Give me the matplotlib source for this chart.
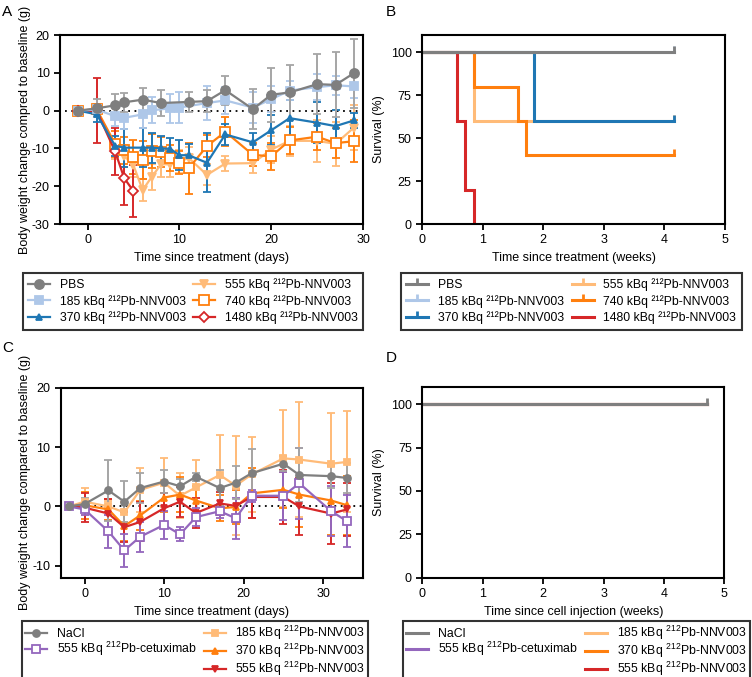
import matplotlib
matplotlib.use("Agg")
import matplotlib.pyplot as plt
from matplotlib.path import Path
from matplotlib.lines import Line2D

# ---------------- data: panel A (body weight, days) ----------------
pbs_days = [-1, 1, 3, 4, 6, 8, 11, 13, 15, 18, 20, 22, 25, 27, 29]
pbs_mean = [0, 0.6, 1.4, 2.2, 2.9, 2.0, 2.3, 2.5, 5.4, 0.4, 4.2, 4.8, 7.0, 6.8, 9.9]
pbs_sd = [0, 2.4, 3.1, 2.5, 3.0, 3.4, 2.7, 2.9, 3.8, 5.3, 7.1, 7.3, 8.0, 8.6, 9.1]

d185_days = [-1, 1, 3, 4, 6, 7, 9, 10, 13, 15, 18, 20, 22, 25, 27, 29]
d185_mean = [0, 0.3, -1.5, -1.9, -1.0, 0.1, 0.6, 0.8, 2.0, 2.7, 0.8, 3.0, 5.3, 6.2, 6.7, 6.4]
d185_sd = [0, 1.5, 2.5, 3.0, 3.5, 3.5, 3.8, 4.0, 4.5, 3.5, 4.0, 3.5, 2.5, 3.5, 2.5, 3.0]

d370_days = [-1, 1, 3, 4, 6, 7, 8, 9, 10, 11, 13, 15, 18, 20, 22, 25, 27, 29]
d370_mean = [0, -1.0, -9.3, -9.8, -9.8, -9.8, -10.0, -10.1, -11.8, -11.8, -13.8,
             -6.3, -8.4, -5.2, -2.0, -3.2, -4.1, -2.6]
d370_sd = [0, 2.0, 2.6, 5.0, 5.2, 4.0, 3.3, 2.8, 4.0, 3.0, 7.8, 2.8, 2.5, 4.0,
           4.8, 5.5, 4.2, 2.0]

d555_days = [-1, 1, 3, 4, 5, 6, 7, 8, 9, 10, 11, 13, 15, 18, 20, 22, 25, 27, 29]
d555_mean = [0, 0.3, -10.4, -12.0, -14.5, -21.0, -17.5, -14.2, -14.2, -13.5, -12.5,
             -17.0, -14.0, -13.9, -10.3, -8.0, -8.0, -8.8, -4.5]
d555_sd = [0, 1.5, 2.5, 3.0, 3.0, 2.8, 3.5, 3.3, 3.3, 3.0, 3.0, 2.8, 2.0, 2.5,
           3.5, 4.0, 5.5, 5.8, 6.0]

d740_days = [-1, 1, 3, 4, 5, 6, 7, 8, 9, 10, 11, 13, 15, 18, 20, 22, 25, 27, 29]
d740_mean = [0, 0.3, -8.8, -10.5, -12.2, -13.0, -10.8, -11.0, -12.6, -13.8, -15.3,
             -9.4, -5.6, -11.7, -12.1, -7.9, -6.9, -8.6, -8.1]
d740_sd = [0, 1.5, 3.5, 3.5, 4.5, 5.0, 4.5, 4.0, 3.5, 3.0, 6.8, 3.0, 3.8, 3.0,
           3.5, 3.5, 3.5, 4.0, 5.5]

d1480_days = [-1, 1, 3, 4, 5]
d1480_mean = [0, -0.1, -10.8, -17.9, -21.3]
d1480_sd = [0, 8.6, 6.2, 7.2, 6.8]

# ---------------- data: panel B (survival, weeks) ----------------
surv_b = {
    "PBS": ([0, 4.15], [100, 100]),
    "185": ([0, 4.15], [100, 100]),
    "370": ([0, 1.85, 4.15], [100, 60, 60]),
    "555": ([0, 0.85, 4.15], [100, 60, 60]),
    "740": ([0, 0.85, 1.58, 1.71, 4.15], [100, 80, 60, 40, 40]),
    "1480": ([0, 0.57, 0.71, 0.85], [100, 60, 20, 0]),
}

# ---------------- data: panel C (body weight, days) ----------------
c_days = [-2, 0, 3, 5, 7, 10, 12, 14, 17, 19, 21, 25, 27, 31, 33]
nacl_mean = [0, 0.4, 2.7, 0.8, 3.1, 4.2, 3.4, 5.0, 3.1, 4.0, 5.6, 7.2, 5.3, 5.1, 4.8]
nacl_sd = [0, 1.0, 5.1, 3.5, 2.6, 1.9, 1.2, 0.7, 3.0, 2.8, 4.0, 1.3, 4.6, 2.0, 2.5]
cetux_mean = [0, -0.5, -4.2, -7.4, -5.1, -3.1, -4.7, -1.8, -0.8, -2.0, 1.8, 1.8, 3.9, -0.8, -2.5]
cetux_sd = [0, 1.0, 2.8, 2.8, 2.5, 2.3, 1.2, 1.5, 1.2, 3.5, 1.0, 4.0, 6.0, 4.2, 4.4]
c185_mean = [0, 0.8, 0.0, -1.0, 2.8, 4.0, 1.8, 3.2, 5.3, 3.5, 5.4, 8.1, 7.9, 7.2, 7.5]
c185_sd = [0, 2.3, 1.0, 1.7, 3.7, 4.1, 3.8, 4.6, 6.7, 8.3, 6.3, 8.2, 9.7, 8.5, 8.5]
c370_mean = [0, 0.2, -0.5, -3.3, -1.5, 1.5, 2.0, 1.0, -0.3, -0.1, 2.2, 2.8, 2.0, 1.0, 0.2]
c370_sd = [0, 2.3, 1.8, 2.5, 2.5, 2.5, 3.0, 2.5, 2.2, 2.8, 4.2, 3.0, 5.5, 5.8, 5.0]
c555_mean = [0, -0.2, -1.2, -3.5, -2.6, -0.3, 0.8, -1.1, 0.5, 0.1, 1.6, 1.6, 0.0, -1.2, -0.5]
c555_sd = [0, 2.5, 2.5, 2.5, 3.3, 2.5, 2.5, 2.5, 2.0, 2.8, 3.5, 4.6, 4.8, 5.2, 4.4]

# ---------------- data: panel D (survival, weeks) ----------------
d_end = 4.72

labels_a = ["PBS", "185 kBq \u00b2\u00b9\u00b2Pb-NNV003", "370 kBq \u00b2\u00b9\u00b2Pb-NNV003",
            "555 kBq \u00b2\u00b9\u00b2Pb-NNV003", "740 kBq \u00b2\u00b9\u00b2Pb-NNV003",
            "1480 kBq \u00b2\u00b9\u00b2Pb-NNV003"]
labels_c = ["NaCl", "555 kBq $^{212}$Pb-cetuximab", "185 kBq $^{212}$Pb-NNV003",
            "370 kBq $^{212}$Pb-NNV003", "555 kBq $^{212}$Pb-NNV003"]

GRAY, GRAY_E = "#7f7f7f", "#a5a5a5"
LBLUE, BLUE = "#aec7e8", "#1f77b4"
LORANGE, ORANGE = "#ffbb78", "#ff7f0e"
RED, PURPLE = "#d62728", "#9467bd"

plt.rcParams['font.family'] = ['Liberation Sans', 'DejaVu Sans']
plt.rcParams['mathtext.default'] = 'regular'
plt.rcParams['axes.unicode_minus'] = False
plt.rcParams['font.size'] = 9

# censoring tick: vertical stroke going up from the point
tick = Path([(0, 0), (0, 1)], [Path.MOVETO, Path.LINETO])


def style_axes(ax):
    for s in ax.spines.values():
        s.set_linewidth(1.5)
    ax.tick_params(direction='out', length=4, width=1.3, labelsize=9,
                   top=False, right=False)


def series(ax, x, y, sd, color, marker, ms, mfc=None, ecolor=None, lw=1.6):
    ax.errorbar(x, y, yerr=sd, color=color, ecolor=ecolor or color,
                elinewidth=1.4, capsize=3, capthick=1.4, marker=marker,
                ms=ms, mfc=mfc or color, mec=color, mew=1.3, lw=lw)
    return Line2D([], [], color=color, marker=marker, ms=ms,
                  mfc=mfc or color, mec=color, mew=1.3, lw=lw)


def frame(leg):
    leg.get_frame().set_edgecolor('black')
    leg.get_frame().set_linewidth(1.5)


fig = plt.figure(figsize=(7.52, 6.77), dpi=100)
axA = fig.add_axes([0.0798, 0.6691, 0.403, 0.2792])
axB = fig.add_axes([0.5612, 0.6691, 0.403, 0.2792])
axC = fig.add_axes([0.0807, 0.1467, 0.402, 0.2806])
axD = fig.add_axes([0.5616, 0.1467, 0.4016, 0.2820])

# ---------------- panel A ----------------
axA.hlines(0, -2.5, 30, colors='black', linestyles=(0, (1, 2.5)), lw=1.3, zorder=1)
h555 = series(axA, d555_days, d555_mean, d555_sd, LORANGE, 'v', 6)
h740 = series(axA, d740_days, d740_mean, d740_sd, ORANGE, 's', 7, mfc='white')
h1480 = series(axA, d1480_days, d1480_mean, d1480_sd, RED, 'D', 5, mfc='white')
h370 = series(axA, d370_days, d370_mean, d370_sd, BLUE, '^', 5)
h185 = series(axA, d185_days, d185_mean, d185_sd, LBLUE, 's', 6)
hpbs = series(axA, pbs_days, pbs_mean, pbs_sd, GRAY, 'o', 6.5, ecolor=GRAY_E)
axA.set_xlim(-3, 30)
axA.set_ylim(-30, 20)
axA.set_xticks([0, 10, 20, 30])
axA.set_yticks([-30, -20, -10, 0, 10, 20])
axA.set_xlabel("Time since treatment (days)")
axA.set_ylabel("Body weight change compred to baseline (g)")
axA.yaxis.set_label_coords(-0.097, 0.5)
style_axes(axA)
legA = axA.legend([hpbs, h185, h370, h555, h740, h1480], labels_a, ncol=2,
                  loc='upper left', bbox_to_anchor=(0.030, 0.597),
                  bbox_transform=fig.transFigure, fancybox=False, fontsize=8.8,
                  handlelength=1.8, columnspacing=0.6, labelspacing=0.3,
                  borderpad=0.45, borderaxespad=0)
frame(legA)

# ---------------- panel B ----------------
colors_b = {"PBS": GRAY, "185": LBLUE, "370": BLUE, "555": LORANGE,
            "740": ORANGE, "1480": RED}
handles_b = []
for key in ["555", "740", "1480", "370", "185", "PBS"]:
    t, s = surv_b[key]
    axB.step(t, s, where='post', color=colors_b[key], lw=2.2, solid_joinstyle='miter')
    if key != "1480":
        axB.plot(t[-1], s[-1], marker=tick, ms=9, mew=2, color=colors_b[key])
for key in ["PBS", "185", "370", "555", "740", "1480"]:
    handles_b.append(Line2D([], [], color=colors_b[key], lw=2.2,
                            marker=None if key == "1480" else tick, ms=9, mew=2))
axB.set_xlim(0, 5)
axB.set_ylim(0, 110)
axB.set_xticks(range(6))
axB.set_yticks([0, 25, 50, 75, 100])
axB.set_xlabel("Time since treatment (weeks)")
axB.set_ylabel("Survival (%)")
style_axes(axB)
legB = axB.legend(handles_b, labels_a, ncol=2, loc='upper left',
                  bbox_to_anchor=(0.533, 0.597), bbox_transform=fig.transFigure,
                  fancybox=False, fontsize=8.8, handlelength=1.8,
                  columnspacing=0.6, labelspacing=0.3, borderpad=0.45,
                  borderaxespad=0)
frame(legB)

# ---------------- panel C ----------------
axC.hlines(0, -2, 35, colors='black', linestyles=(0, (1, 2.5)), lw=1.3, zorder=1)
hc185 = series(axC, c_days, c185_mean, c185_sd, LORANGE, 's', 4.5)
hc370 = series(axC, c_days, c370_mean, c370_sd, ORANGE, '^', 4.5)
hc555 = series(axC, c_days, c555_mean, c555_sd, RED, 'v', 4.5)
hcet = series(axC, c_days, cetux_mean, cetux_sd, PURPLE, 's', 6, mfc='white')
hnacl = series(axC, c_days, nacl_mean, nacl_sd, GRAY, 'o', 5, ecolor=GRAY_E)
axC.set_xlim(-3, 35)
axC.set_ylim(-12, 20)
axC.set_xticks([0, 10, 20, 30])
axC.set_yticks([-10, 0, 10, 20])
axC.set_xlabel("Time since treatment (days)")
axC.set_ylabel("Body weight change compared to baseline (g)")
axC.yaxis.set_label_coords(-0.097, 0.5)
style_axes(axC)
blank = Line2D([], [], alpha=0)
legC = axC.legend([hnacl, hcet, blank, hc185, hc370, hc555],
                  [labels_c[0], labels_c[1], "", labels_c[2], labels_c[3], labels_c[4]],
                  ncol=2, loc='upper left', bbox_to_anchor=(0.029, 0.083),
                  bbox_transform=fig.transFigure, fancybox=False, fontsize=8.8,
                  handlelength=1.8, columnspacing=0.6, labelspacing=0.0,
                  borderpad=0.25, borderaxespad=0)
frame(legC)

# ---------------- panel D ----------------
colors_d = [GRAY, PURPLE, LORANGE, ORANGE, RED]
for col in colors_d[::-1]:
    axD.step([0, d_end], [100, 100], where='post', color=col, lw=2.2)
axD.plot(d_end, 100, marker=tick, ms=9, mew=2, color=GRAY)
handles_d = [Line2D([], [], color=c, lw=2.2) for c in colors_d]
axD.set_xlim(0, 5)
axD.set_ylim(0, 110)
axD.set_xticks(range(6))
axD.set_yticks([0, 25, 50, 75, 100])
axD.set_xlabel("Time since cell injection (weeks)")
axD.set_ylabel("Survival (%)")
style_axes(axD)
legD = axD.legend([handles_d[0], handles_d[1], blank] + handles_d[2:],
                  [labels_c[0], labels_c[1], "", labels_c[2], labels_c[3], labels_c[4]],
                  ncol=2, loc='upper left', bbox_to_anchor=(0.536, 0.083),
                  bbox_transform=fig.transFigure, fancybox=False, fontsize=8.8,
                  handlelength=1.8, columnspacing=0.6, labelspacing=0.0,
                  borderpad=0.25, borderaxespad=0)
frame(legD)

for letter, x, y in [("A", 0.003, 0.993), ("B", 0.513, 0.993),
                     ("C", 0.003, 0.497), ("D", 0.513, 0.482)]:
    fig.text(x, y, letter, fontsize=11, va='top', ha='left')

fig.savefig("out.png", dpi=100, facecolor='w')
